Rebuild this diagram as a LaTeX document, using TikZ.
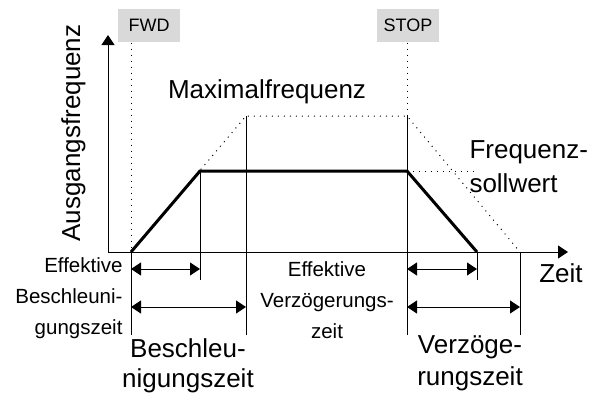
\documentclass[tikz,border=0pt]{standalone}
\usepackage{fontspec}
\setmainfont{Liberation Sans}
\usetikzlibrary{arrows.meta}
\begin{document}
\begin{tikzpicture}[x=1pt, y=-1pt, line width=1pt, >={Triangle[length=10pt, width=13pt]},
	biglabel/.style={font=\fontsize{26}{30}\selectfont, inner sep=0pt},
	smalllabel/.style={font=\fontsize{20.5}{31}\selectfont, inner sep=0pt},
	cmdbox/.style={fill=black!15, font=\fontsize{18}{20}\selectfont, minimum width=62pt, minimum height=33pt, inner sep=0pt},
	guide/.style={dash pattern=on 1pt off 5pt},
	profile/.style={line width=3pt, line join=miter}]
	
	% Bounding box
	\useasboundingbox (0,0) rectangle (599,394);
	
	% Key points of the frequency profile
	\coordinate (O) at (108,252);
	\coordinate (ytop) at (108,35);
	\coordinate (xend) at (568,252);
	\coordinate (start) at (131,252);
	\coordinate (accel) at (200,171);
	\coordinate (decel) at (407,171);
	\coordinate (stopped) at (477,252);
	\coordinate (maxA) at (246,116);
	\coordinate (maxD) at (407,116);
	\coordinate (endmax) at (520,252);
	\coordinate (setpt) at (478,171);
	\coordinate (dimS) at (0,269);
	\coordinate (dimL) at (0,307);
	
	% Command boxes
	\node[cmdbox] (fwd) at (149,25.5) {FWD};
	\node[cmdbox] (stop) at (408,25.5) {STOP};
	
	% Coordinate axes
	\draw[->] (O) -- (ytop);
	\draw[->] (O) -- (xend);
	
	% Dotted guides
	\draw[guide] (fwd.south -| start) -- (start);
	\draw[guide] (stop.south -| maxD) -- (maxD);
	\draw[guide] (start) -- (maxA) -- (maxD) -- (endmax);
	\draw[guide] (decel) -- (setpt);
	
	% Output frequency
	\draw[profile] (start) -- (accel) -- (decel) -- (stopped);
	
	% Time marks
	\draw (start) -- ++(0,83);
	\draw (accel) -- ++(0,109);
	\draw (maxA) -- ++(0,219);
	\draw (maxD) -- ++(0,219);
	\draw (stopped) -- ++(0,28);
	\draw (endmax) -- ++(0,83);
	
	% Time spans
	\draw[<->] (start |- dimS) -- (accel |- dimS);
	\draw[<->] (start |- dimL) -- (maxA |- dimL);
	\draw[<->] (decel |- dimS) -- (stopped |- dimS);
	\draw[<->] (decel |- dimL) -- (endmax |- dimL);
	
	% Labels (multi-line nodes sit on their last line)
	\node[biglabel, rotate=90, anchor=base] (ylab) at (80,133) {Ausgangsfrequenz};
	\node[biglabel, anchor=base] (xlab) at (561,282) {Zeit};
	\node[biglabel, anchor=base] (maxlab) at (267,98) {Maximalfrequenz};
	\node[biglabel, font=\fontsize{26}{34}\selectfont, anchor=base west, align=left] (setlab) at (469,192) {Frequenz-\\sollwert};
	\node[smalllabel, anchor=base east, align=right] (effacc) at (123,334) {Effektive\\Beschleuni-\\gungszeit};
	\node[smalllabel, anchor=base, align=center] (effdec) at (327,338) {Effektive\\Verzögerungs-\\zeit};
	\node[biglabel, anchor=base, align=center] (acc) at (188,387) {Beschleu-\\nigungszeit};
	\node[biglabel, font=\fontsize{26}{32}\selectfont, anchor=base, align=center] (dec) at (470,385) {Verzöge-\\rungszeit};
	
\end{tikzpicture}
\end{document}
